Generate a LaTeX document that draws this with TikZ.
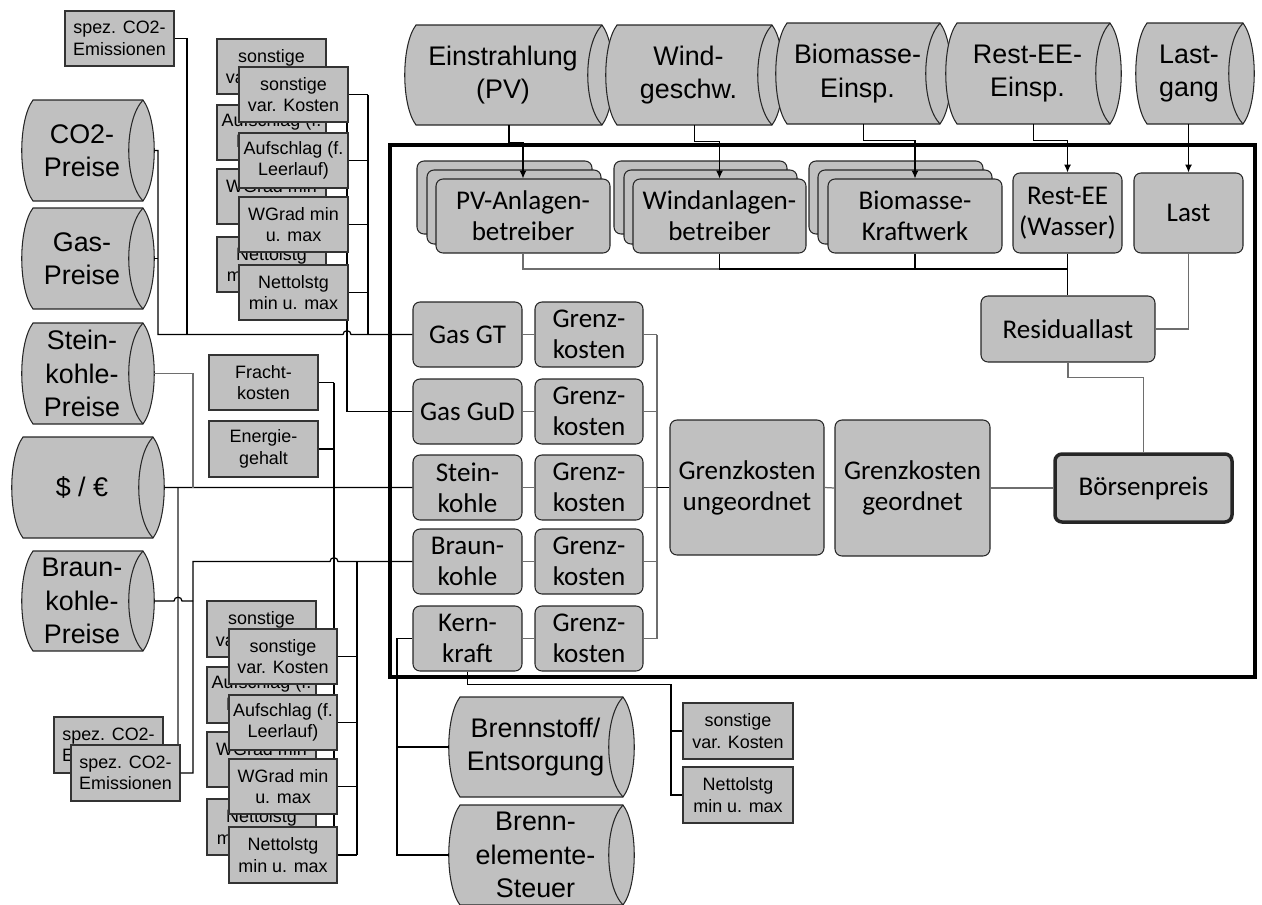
\documentclass[tikz,border=0pt]{standalone}
\usepackage{fontspec}
\setmainfont{Liberation Sans}
\newfontfamily\calibri{Carlito}
\usetikzlibrary{fit,calc,arrows.meta}
\definecolor{boxgray}{RGB}{192,192,192}
\definecolor{wiregray}{RGB}{110,110,110}
\tikzset{spans/.style args={#1/#2/#3/#4}{at={({(#1+#3)/2},{(#2+#4)/2})},
  minimum width={(#3-#1)*0.02cm}, minimum height={(#4-#2)*0.02cm}}}
\tikzstyle{rbox}=[draw=black!85, fill=boxgray, rounded corners=4pt, inner sep=0pt, line width=0.6pt, align=center, font=\calibri\fontsize{15.4}{17.6}\selectfont]
\tikzstyle{sbox}=[draw=black!80, fill=boxgray, inner sep=0pt, line width=0.6pt, align=center, font=\fontsize{10.2}{12.3}\selectfont]
\tikzstyle{drumline}=[draw=black!85, fill=boxgray, line width=0.6pt]
\tikzstyle{drumbox}=[inner sep=0pt]
\tikzstyle{drumtxt}=[align=center, font=\fontsize{15.3}{19}\selectfont]
\tikzstyle{marktrahmen}=[draw, line width=2pt, inner sep=0pt]
\tikzstyle{wire}=[black, line width=0.7pt]
\tikzstyle{gwire}=[wiregray, line width=0.7pt]
\tikzstyle{feed}=[wire, -{Latex[length=4.5pt,width=4pt]}]
% drum: name, left x, top y, right x, bottom y, text
\newcommand{\drum}[6]{%
  \draw[drumline] (#2,#3) -- (#4,#3)
    .. controls ({#4+15},{#3+0.2*(#5-#3)}) and ({#4+15},{#5-0.2*(#5-#3)}) .. (#4,#5)
    -- (#2,#5)
    .. controls ({#2-15},{#5-0.2*(#5-#3)}) and ({#2-15},{#3+0.2*(#5-#3)}) .. cycle;
  \draw[drumline, fill=none] (#4,#3)
    .. controls ({#4-19},{#3+0.2*(#5-#3)}) and ({#4-19},{#5-0.2*(#5-#3)}) .. (#4,#5);
  \node[drumbox, fit={({#2-11},#3) ({#4+11},#5)}] (#1) {};
  \node[drumtxt] (#1t) at ({(#2+#4)/2-6},{(#3+#5)/2}) {#6};
}

\begin{document}
\begin{tikzpicture}[x=0.02cm, y=-0.02cm]
\useasboundingbox (0,0) rectangle (1262,904);

% time series
\drum{ein}{416}{25}{602}{125}{Einstrahlung\\(PV)}
\drum{windg}{617}{25}{772}{125}{Wind-\\geschw.}
\drum{biog}{787}{23}{940}{124}{Biomasse-\\Einsp.}
\drum{restg}{957}{23}{1110}{124}{Rest-EE-\\Einsp.}
\drum{lastg}{1147}{23}{1243}{124}{Last-\\gang}

% prices
\drum{co2p}{33}{100}{143}{201}{CO2-\\Preise}
\drum{gasp}{33}{208}{143}{309}{Gas-\\Preise}
\drum{skp}{33}{323}{143}{424}{Stein-\\kohle-\\Preise}
\drum{fx}{23}{437}{153}{538}{\$ / €}
\drum{bkp}{33}{551}{143}{651}{Braun-\\kohle-\\Preise}
\drum{brst}{460}{697}{623}{797}{Brennstoff/\\Entsorgung}
\drum{bst}{460}{805}{623}{905}{Brenn-\\elemente-\\Steuer}

% operators
\node[rbox, spans=417/161/592/234] (pv3) {};
\node[rbox, spans=427/170/601/244] (pv2) {};
\node[rbox, spans=436/179/610/253] (pv) {PV-Anlagen-\\betreiber};
\node[rbox, spans=614/161/787/234] (wind3) {};
\node[rbox, spans=624/170/797/244] (wind2) {};
\node[rbox, spans=633/179/806/253] (wind) {Windanlagen-\\betreiber};
\node[rbox, spans=809/161/983/234] (bio3) {};
\node[rbox, spans=818/170/992/244] (bio2) {};
\node[rbox, spans=828/179/1002/253] (bio) {Biomasse-\\Kraftwerk};
\node[rbox, spans=1013/173/1122/253] (restee) {Rest-EE\\(Wasser)};
\node[rbox, spans=1134/173/1243/253] (last) {Last};
\node[rbox, spans=981/296/1155/362] (resid) {Residuallast};

% plants
\node[rbox, spans=413/302/522/367] (gt) {Gas GT};
\node[rbox, spans=413/379/522/444] (gud) {Gas GuD};
\node[rbox, spans=413/455/522/520] (sk) {Stein-\\kohle};
\node[rbox, spans=413/529/522/594] (bk) {Braun-\\kohle};
\node[rbox, spans=413/606/522/671] (kk) {Kern-\\kraft};
\node[rbox, spans=535/302/643/367] (gk1) {Grenz-\\kosten};
\node[rbox, spans=535/379/643/444] (gk2) {Grenz-\\kosten};
\node[rbox, spans=535/455/643/520] (gk3) {Grenz-\\kosten};
\node[rbox, spans=535/529/643/594] (gk4) {Grenz-\\kosten};
\node[rbox, spans=535/606/643/671] (gk5) {Grenz-\\kosten};
\node[rbox, spans=670/420/824/555] (ungeo) {Grenzkosten\\ungeordnet};
\node[rbox, spans=835/420/990/556] (geo) {Grenzkosten\\geordnet};
\node[rbox, line width=2pt, spans=1055/454/1232/522] (boerse) {Börsenpreis};

% parameters, upper stack
\node[sbox, spans=65/11/174/66] (co2ea) {spez. CO2-\\Emissionen};
\node[sbox, spans=217/39/326/94] (sv1a) {sonstige\\var. Kosten};
\node[sbox, spans=217/105/326/160] (au1a) {Aufschlag (f.\\Leerlauf)};
\node[sbox, spans=217/169/326/224] (wg1a) {WGrad min\\u. max};
\node[sbox, spans=217/237/326/292] (nl1a) {Nettolstg\\min u. max};
\coordinate (fb) at (347,0);
\foreach \n in {sv1a,au1a,wg1a,nl1a}
  \draw[wire] (\n.east) -- (\n.east -| fb);
\draw[wire] (sv1a.east -| fb) |- (gud.west);
\node[sbox, spans=239/67/348/122] (sv1b) {sonstige\\var. Kosten};
\node[sbox, spans=239/133/348/188] (au1b) {Aufschlag (f.\\Leerlauf)};
\node[sbox, spans=239/197/348/252] (wg1b) {WGrad min\\u. max};
\node[sbox, spans=239/265/348/320] (nl1b) {Nettolstg\\min u. max};

% parameters, coal
\node[sbox, spans=209/355/318/410] (fracht) {Fracht-\\kosten};
\node[sbox, spans=209/421/318/477] (energie) {Energie-\\gehalt};

% parameters, lower stack
\node[sbox, spans=54/717/163/773] (co2eb) {spez. CO2-\\Emissionen};
\draw[gwire] (178,487.5) |- (co2eb.east);
\node[sbox, spans=71/745/180/801] (co2ec) {spez. CO2-\\Emissionen};
\node[sbox, spans=207/601/316/657] (sv2a) {sonstige\\var. Kosten};
\node[sbox, spans=207/667/316/723] (au2a) {Aufschlag (f.\\Leerlauf)};
\node[sbox, spans=207/732/316/787] (wg2a) {WGrad min\\u. max};
\node[sbox, spans=207/799/316/855] (nl2a) {Nettolstg\\min u. max};
\coordinate (fc) at (334,0);
\foreach \n in {fracht,energie,sv2a,au2a,wg2a,nl2a}
  \draw[wire] (\n.east) -- (\n.east -| fc);
\draw[wire] (fracht.east -| fc) -- (nl2a.east -| fc);
\node[sbox, spans=229/629/337/684] (sv2b) {sonstige\\var. Kosten};
\node[sbox, spans=229/695/337/750] (au2b) {Aufschlag (f.\\Leerlauf)};
\node[sbox, spans=229/759/337/814] (wg2b) {WGrad min\\u. max};
\node[sbox, spans=229/827/337/883] (nl2b) {Nettolstg\\min u. max};

% parameters, nuclear
\node[sbox, spans=683/703/793/759] (svk) {sonstige\\var. Kosten};
\node[sbox, spans=683/767/793/823] (nlk) {Nettolstg\\min u. max};

% gas
\coordinate (ja) at (158,0);
\draw[wire] (co2p.east) -| (ja |- gt.west) -- (343,334.5)
  .. controls (343,329.5) and (351,329.5) .. (351,334.5) -- (gt.west);
\draw[wire] (gasp.east) -- (gasp.east -| ja);
\draw[wire] (co2ea.east) -| (187,334.5);
\coordinate (fa) at (368,0);
\foreach \n in {sv1b,au1b,wg1b,nl1b}
  \draw[wire] (\n.east) -- (\n.east -| fa);
\draw[wire] (sv1b.east -| fa) -- (fa |- gt.west);

% coal
\draw[wire] (fx.east) -- (sk.west);
\draw[gwire] (skp.east) -| (193,487.5);
\draw[wire] (bkp.east) -- (174,601) .. controls (174,596) and (182,596) .. (182,601) -- (193,601);
\draw[wire] (co2ec.east) -| (193,561.5) -- (330,561.5)
  .. controls (330,556.5) and (338,556.5) .. (338,561.5) -- (bk.west);
\coordinate (fd) at (357,0);
\foreach \n in {sv2b,au2b,wg2b,nl2b}
  \draw[wire] (\n.east) -- (\n.east -| fd);
\draw[wire] (fd |- bk.west) -- (nl2b.east -| fd);

% nuclear
\coordinate (fe) at (397,0);
\draw[wire] (kk.west) -- (kk.west -| fe) |- (bst.west);
\draw[wire] (fe |- brst.west) -- (brst.west);
\coordinate (ff) at (671,0);
\draw[wire] (kk.south) -- ++(0,13) -| (ff |- nlk.west) -- (nlk.west);
\draw[wire] (ff |- svk.west) -- (svk.west);

% merit order
\coordinate (gkbus) at (657,0);
\foreach \p/\g in {gt/gk1,gud/gk2,sk/gk3,bk/gk4,kk/gk5} {
  \draw[gwire] (\p.east) -- (\g.west);
  \draw[gwire] (\g.east) -- (\g.east -| gkbus);
}
\draw[gwire] (gk1.east -| gkbus) -- (gk5.east -| gkbus);
\draw[wire] (gk3.east -| gkbus) -- (ungeo.west);
\draw[gwire] (ungeo.east) -- (geo.west);
\draw[gwire] (geo.east) -- (boerse.west);

% feed-in and load
\draw[feed] (ein.south) -- ++(0,17) -| (pv.north);
\draw[feed] (windg.south) -- ++(0,16) -| (wind.north);
\draw[feed] (biog.south) -- ++(0,16) -| (bio.north);
\draw[feed] (restg.south) -- ++(0,16) -| (restee.north);
\draw[feed] (last.north |- lastg.south) -- (last.north);
\coordinate (sumy) at (0,269);
\draw[gwire] (pv.south) |- (wind.south |- sumy);
\draw[wire] (wind.south) -- (wind.south |- sumy) -- (restee.south |- sumy);
\draw[wire] (bio.south) -- (bio.south |- sumy);
\draw[wire] (restee.south) -- (restee.south |- resid.north);
\draw[gwire] (last.south) |- (resid.east);
\draw[gwire] (resid.south) -- ++(0,15) -| (boerse.north);

\node[marktrahmen, fit={(390,145) (1255,677)}] (markt) {};
\end{tikzpicture}
\end{document}
